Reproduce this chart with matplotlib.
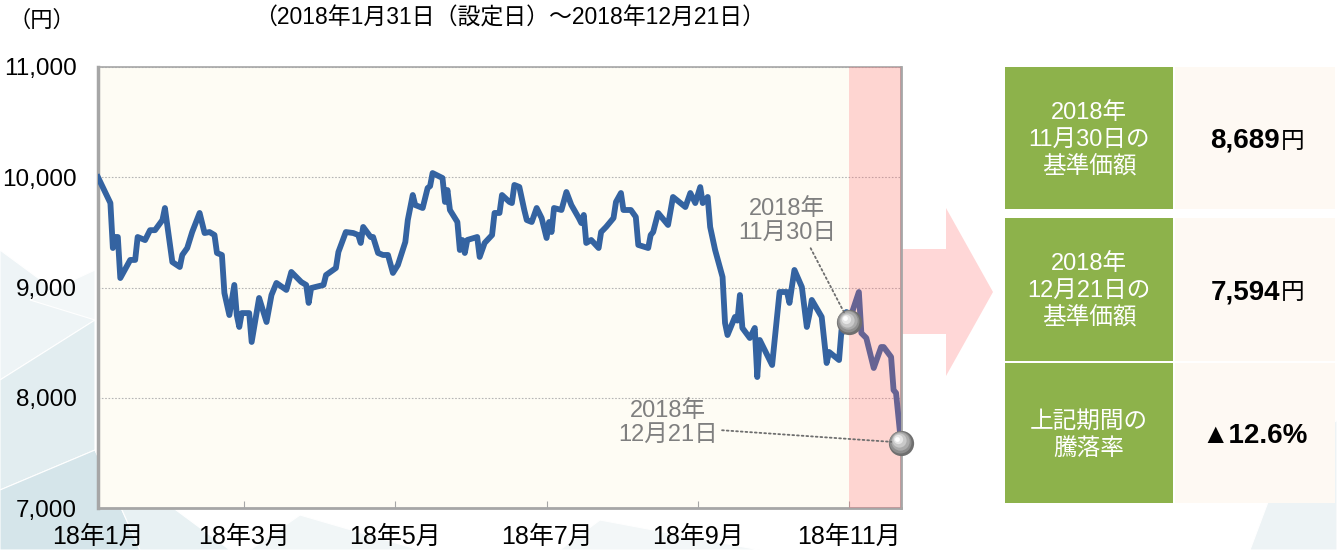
import numpy as np
import pandas as pd
import matplotlib
matplotlib.use("Agg")
import matplotlib.pyplot as plt
from matplotlib.patches import Rectangle, Polygon
import matplotlib.transforms as mtransforms

JP = ['Noto Sans CJK JP', 'DejaVu Sans']
NUM = ['Liberation Sans', 'Noto Sans CJK JP', 'DejaVu Sans']

# 基準価額の推移（設定日からの経過日数, 円）
start_date = "2018-01-31"
elapsed_days = [0, 5, 6, 7, 8, 9, 13, 15, 16, 19, 21, 23, 26, 27, 30, 33, 34, 36, 38, 41,
                43, 45, 47, 48, 50, 51, 53, 55, 56, 57, 58, 61, 62, 65, 68, 70, 72, 76, 78, 82,
                84, 85, 86, 91, 92, 96, 97, 100, 103, 105, 106, 107, 110, 111, 113, 115, 117, 119, 121, 124,
                125, 127, 128, 131, 133, 134, 135, 139, 140, 141, 142, 145, 146, 147, 148, 149, 153, 154, 156, 159,
                160, 162, 163, 166, 167, 168, 170, 172, 173, 175, 177, 179, 181, 182, 183, 184, 187, 189, 191, 194,
                195, 196, 197, 199, 202, 203, 205, 208, 209, 211, 212, 215, 217, 218, 222, 223, 224, 226, 230, 232,
                237, 239, 241, 243, 244, 246, 247, 249, 252, 253, 254, 257, 258, 259, 260, 263, 265, 266, 267, 269,
                272, 275, 278, 279, 281, 284, 286, 287, 288, 292, 294, 295, 299, 300, 301, 302, 303, 307, 308, 310,
                313, 316, 317, 320, 321, 322, 324]
nav = [10000, 9766, 9358, 9458, 9458, 9086, 9250, 9250, 9458, 9430, 9520, 9520, 9612, 9721, 9231, 9186, 9295, 9358, 9503, 9676,
       9494, 9503, 9476, 9313, 9295, 8950, 8750, 9023, 8750, 8642, 8768, 8768, 8506, 8905, 8687, 8932, 9041, 8978, 9141, 9050,
       9023, 8860, 8995, 9023, 9113, 9177, 9322, 9503, 9494, 9476, 9404, 9549, 9458, 9458, 9313, 9295, 9295, 9132, 9204, 9413,
       9612, 9839, 9748, 9721, 9902, 9920, 10038, 9993, 9776, 9884, 9703, 9594, 9340, 9431, 9313, 9431, 9458, 9277, 9404, 9476,
       9676, 9676, 9839, 9776, 9766, 9930, 9912, 9703, 9612, 9594, 9721, 9630, 9449, 9594, 9503, 9721, 9703, 9866, 9748, 9630,
       9585, 9658, 9404, 9431, 9358, 9503, 9549, 9630, 9776, 9857, 9703, 9703, 9640, 9386, 9358, 9476, 9503, 9676, 9567, 9821,
       9730, 9857, 9766, 9911, 9766, 9821, 9549, 9340, 9095, 8678, 8569, 8733, 8700, 8932, 8633, 8542, 8633, 8188, 8524, 8433,
       8297, 8959, 8959, 8860, 9159, 9004, 8642, 8751, 8887, 8733, 8315, 8415, 8342, 8615, 8600, 8778, 8689, 8959, 8587, 8542,
       8270, 8460, 8460, 8370, 8070, 8043, 7594]

tick_dates = ["2018-01-31", "2018-03-31", "2018-05-31", "2018-07-31", "2018-09-30", "2018-11-30"]
tick_labels = ["18年1月", "18年3月", "18年5月", "18年7月", "18年9月", "18年11月"]
y_ticks = [7000, 8000, 9000, 10000, 11000]

mid_date = "2018-11-30"
mid_nav = 8689
end_date = "2018-12-21"
end_nav = 7594

row_labels = ["2018年\n11月30日の\n基準価額", "2018年\n12月21日の\n基準価額", "上記期間の\n騰落率"]

dates = pd.Timestamp(start_date) + pd.to_timedelta(elapsed_days, unit="D")
change = (end_nav / mid_nav - 1) * 100

fig = plt.figure(figsize=(13.37, 5.5), dpi=100)
fig.patch.set_facecolor("white")

# background layer in pixel coordinates
bg = fig.add_axes([0, 0, 1, 1], zorder=0)
bg.set_xlim(0, 1337)
bg.set_ylim(550, 0)
bg.axis("off")

# faint geometric decoration
deco = [
    ([(0, 250), (95, 320), (0, 380)], "#EEF4F6"),
    ([(0, 380), (95, 320), (95, 450), (0, 490)], "#E2EDF0"),
    ([(0, 490), (95, 450), (140, 550), (0, 550)], "#D5E5EA"),
    ([(95, 450), (230, 550), (140, 550)], "#E8F1F3"),
    ([(30, 300), (95, 270), (95, 320)], "#F3F7F8"),
    ([(300, 515), (420, 550), (250, 550)], "#F1F6F7"),
    ([(600, 520), (760, 550), (560, 550)], "#F3F7F8"),
    ([(1280, 470), (1337, 420), (1337, 550), (1250, 550)], "#EDF3F5"),
]
for pts, c in deco:
    bg.add_patch(Polygon(pts, closed=True, fc=c, ec="white", lw=0.8))

# arrow
bg.add_patch(Polygon([(901, 249), (946, 249), (946, 208), (993, 292), (946, 376), (946, 334), (901, 334)],
                     closed=True, fc="#FFD7D7", ec="none"))

# table
rows = [(67, 209), (218, 361), (363, 503)]
for (top, bot), lab in zip(rows, row_labels):
    bg.add_patch(Rectangle((1005, top), 168, bot - top, fc="#8DB24B", ec="none"))
    bg.add_patch(Rectangle((1175, top), 160, bot - top, fc="#FEF9F3", ec="none"))
    bg.text(1089, (top + bot) / 2 + 2, lab, ha="center", va="center", color="white",
            fontsize=17, linespacing=1.3, family=NUM)

vals = [f"{mid_nav:,}", f"{end_nav:,}"]
for (top, bot), v in zip(rows[:2], vals):
    cy = (top + bot) / 2 + 3
    bg.text(1280, cy, v, ha="right", va="center", fontsize=20, fontweight="bold", family=NUM)
    bg.text(1281, cy, "円", ha="left", va="center", fontsize=17, family=JP)
bg.text(1255, (rows[2][0] + rows[2][1]) / 2 + 3, f"▲{abs(change):.1f}%", ha="center", va="center",
        fontsize=20, fontweight="bold", family=["Liberation Sans", "DejaVu Sans"])

# header texts
bg.text(8, 20, "（円）", ha="left", va="center", fontsize=16, family=JP)
bg.text(510, 18, "（2018年1月31日（設定日）～2018年12月21日）", ha="center", va="center",
        fontsize=16.5, family=NUM)

# main chart
ax = fig.add_axes([98 / 1337, 42 / 550, 803 / 1337, 441 / 550], zorder=1)
ax.set_facecolor("#FEFCF4")
ax.plot(dates, nav, color="#3463A1", lw=4.2, solid_joinstyle="round", zorder=3)
ax.axvspan(pd.Timestamp(mid_date), pd.Timestamp(end_date), color=(1, 0.39, 0.42), alpha=0.25, lw=0, zorder=4)

ax.set_xlim(dates[0], dates[-1])
ax.set_ylim(y_ticks[0], y_ticks[-1])
ax.set_yticks(y_ticks)
ax.set_yticklabels([f"{v:,}" for v in y_ticks], fontsize=17.5, family=NUM)
ax.set_xticks(pd.to_datetime(tick_dates))
ax.set_xticklabels(tick_labels, fontsize=18, family=NUM)
ax.tick_params(axis="x", direction="in", length=5, color="#A6A6A6", pad=12)
ax.tick_params(axis="y", length=0, pad=15)
ax.yaxis.grid(True, ls=(0, (1.5, 1.5)), color="#B5B5B5", lw=0.8)
ax.set_axisbelow(True)
for s in ax.spines.values():
    s.set_color("#A6A6A6")
    s.set_linewidth(1.2)
ax.spines["left"].set_linewidth(2.5)
ax.spines["bottom"].set_linewidth(2.0)
ax.spines["right"].set_linewidth(2.0)


def sphere(x, y):
    layers = [(330, "#6F6F6F", 0), (250, "#8E8E8E", 0.5), (175, "#ABABAB", 1.0),
              (105, "#C9C9C9", 1.6), (45, "#E6E6E6", 2.2), (12, "#FFFFFF", 2.7)]
    for s, c, off in layers:
        tr = mtransforms.offset_copy(ax.transData, fig=fig, x=-off, y=off, units="points")
        ax.scatter([x], [y], s=s, color=c, lw=0, zorder=6, transform=tr, clip_on=False)


sphere(pd.Timestamp(mid_date), mid_nav)
sphere(pd.Timestamp(end_date), end_nav)

leader = dict(arrowstyle="-", ls=(0, (1, 1.6)), color="#6E6E6E", lw=1.3, shrinkA=1, shrinkB=7)
ax.annotate("2018年\n11月30日", xy=(pd.Timestamp(mid_date), mid_nav),
            xytext=(pd.Timestamp(start_date) + pd.Timedelta(days=278), 9600),
            ha="center", va="center", color="#7F7F7F", fontsize=17, linespacing=1.1, family=NUM,
            arrowprops=dict(leader, relpos=(0.72, 0.0)), zorder=7)
ax.annotate("2018年\n12月21日", xy=(pd.Timestamp(end_date), end_nav),
            xytext=(pd.Timestamp(start_date) + pd.Timedelta(days=230), 7770),
            ha="center", va="center", color="#7F7F7F", fontsize=17, linespacing=1.1, family=NUM,
            arrowprops=dict(leader, relpos=(1.0, 0.35)), zorder=7)

fig.savefig("out.png", dpi=100)
